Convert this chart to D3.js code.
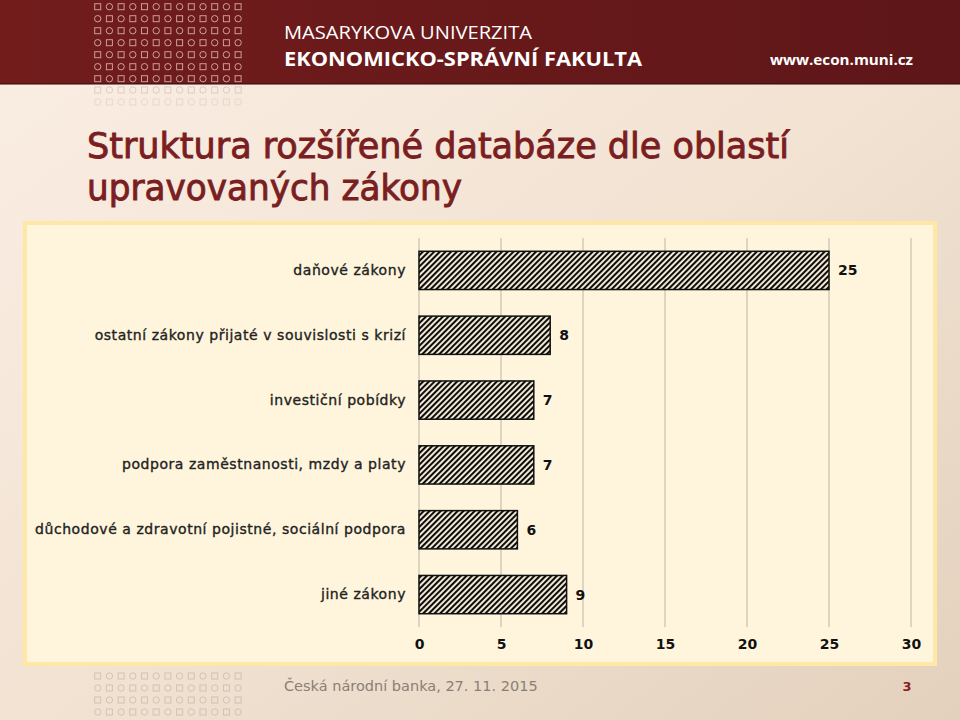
<!DOCTYPE html>
<html>
<head>
<meta charset="utf-8">
<script src="https://cdn.jsdelivr.net/npm/d3@7"></script>
<style>
  html, body { margin: 0; padding: 0; background: #f3e6d8; }
  svg { display: block; }
</style>
</head>
<body>
<svg id="chart" width="960" height="720"></svg>
<script>
// ---- data ----
const categories = [
  "daňové zákony",
  "ostatní zákony přijaté v souvislosti s krizí",
  "investiční pobídky",
  "podpora zaměstnanosti, mzdy a platy",
  "důchodové a zdravotní pojistné, sociální podpora",
  "jiné zákony"
];
const values = [25, 8, 7, 7, 6, 9];
const tickValues = [0, 5, 10, 15, 20, 25, 30];
const titleLines = ["Struktura rozšířené databáze dle oblastí", "upravovaných zákony"];
const headerLines = ["MASARYKOVA UNIVERZITA", "EKONOMICKO-SPRÁVNÍ FAKULTA"];
const headerUrl = "www.econ.muni.cz";
const footerText = "Česká národní banka, 27. 11. 2015";
const pageNumber = "3";

const svg = d3.select("#chart");
const W = 960, H = 720;
const defs = svg.append("defs");

// background gradient
const bg = defs.append("linearGradient").attr("id", "bg")
  .attr("x1", "0").attr("y1", "0").attr("x2", "1").attr("y2", "1");
bg.append("stop").attr("offset", "0").attr("stop-color", "#fbeee4");
bg.append("stop").attr("offset", "0.5").attr("stop-color", "#f2e3d3");
bg.append("stop").attr("offset", "1").attr("stop-color", "#e3d1bd");
svg.append("rect").attr("width", W).attr("height", H).attr("fill", "url(#bg)");

// header gradient
const hg = defs.append("linearGradient").attr("id", "hg")
  .attr("x1", "0").attr("y1", "0").attr("x2", "1").attr("y2", "0");
hg.append("stop").attr("offset", "0").attr("stop-color", "#721c1c");
hg.append("stop").attr("offset", "1").attr("stop-color", "#5e1618");
svg.append("rect").attr("width", W).attr("height", 84).attr("fill", "url(#hg)");
svg.append("line").attr("x1", 0).attr("x2", W).attr("y1", 84).attr("y2", 84)
  .attr("stroke", "#2a0a0a").attr("stroke-width", 1.2);

// dot pattern (header + fades)
function dots(y0, rows, colorFn) {
  for (let r = 0; r < rows; r++) {
    for (let c = 0; c < 13; c++) {
      const x = 97.7 + c * 11.7, y = y0 + r * 12;
      const col = colorFn(r);
      if ((r + c) % 2 === 0) {
        svg.append("rect").attr("x", x - 3).attr("y", y - 3).attr("width", 6).attr("height", 6)
          .attr("fill", "none").attr("stroke", col).attr("stroke-width", 1);
      } else {
        svg.append("circle").attr("cx", x).attr("cy", y).attr("r", 3.2)
          .attr("fill", "none").attr("stroke", col).attr("stroke-width", 1);
      }
    }
  }
}
dots(6.7, 7, () => "rgba(235,200,200,0.75)");
dots(90, 2, r => r === 0 ? "rgba(200,180,170,0.55)" : "rgba(200,180,170,0.35)");
dots(676, 4, () => "rgba(190,175,160,0.6)");

// header texts
svg.append("text").attr("x", 284).attr("y", 39).text(headerLines[0])
  .attr("font-family", "Open Sans").attr("font-size", 19).attr("fill", "#fff")
  .attr("textLength", 248).attr("lengthAdjust", "spacingAndGlyphs");
svg.append("text").attr("x", 284).attr("y", 66).text(headerLines[1])
  .attr("font-family", "Open Sans").attr("font-weight", "bold").attr("font-size", 20).attr("fill", "#fff")
  .attr("textLength", 358).attr("lengthAdjust", "spacingAndGlyphs");
svg.append("text").attr("x", 770).attr("y", 65).text(headerUrl)
  .attr("font-family", "Open Sans").attr("font-weight", "bold").attr("font-size", 15).attr("fill", "#fff")
  .attr("textLength", 143).attr("lengthAdjust", "spacingAndGlyphs");

// title
titleLines.forEach((t, i) => {
  svg.append("text").attr("x", 87).attr("y", 158 + i * 42).text(t)
    .attr("font-family", "DejaVu Sans").attr("font-size", 35)
    .attr("fill", "#7a1e22").attr("stroke", "#7a1e22").attr("stroke-width", 0.9)
    .attr("textLength", i === 0 ? 702 : 375).attr("lengthAdjust", "spacingAndGlyphs");
});

// chart box
svg.append("rect").attr("x", 25).attr("y", 223).attr("width", 910).attr("height", 441)
  .attr("fill", "#fff5dc").attr("stroke", "#fde8a6").attr("stroke-width", 4);

// hatch pattern
const pat = defs.append("pattern").attr("id", "hatch").attr("patternUnits", "userSpaceOnUse")
  .attr("width", 4).attr("height", 4).attr("patternTransform", "rotate(45)");
pat.append("rect").attr("width", 4).attr("height", 4).attr("fill", "#fbf3dc");
pat.append("rect").attr("x", 0).attr("width", 2.1).attr("height", 4).attr("fill", "#0d0d0d");

// scales
const plot = { left: 419, right: 911, top: 238, bottom: 627 };
const x = d3.scaleLinear().domain([0, 30]).range([plot.left, plot.right]);
const y = d3.scaleBand().domain(categories).range([plot.top, plot.bottom]).paddingInner(0.41).paddingOuter(0.205);

// gridlines
const g = svg.append("g");
g.selectAll("line.grid").data(tickValues).join("line")
  .attr("x1", d => x(d)).attr("x2", d => x(d))
  .attr("y1", plot.top).attr("y2", plot.bottom)
  .attr("stroke", "#c2baa9").attr("stroke-width", 1.1);

// bars
g.selectAll("rect.bar").data(values).join("rect")
  .attr("x", x(0)).attr("y", (d, i) => y(categories[i]))
  .attr("width", d => x(d) - x(0)).attr("height", y.bandwidth())
  .attr("fill", "url(#hatch)").attr("stroke", "#111").attr("stroke-width", 1.5);

// value labels
g.selectAll("text.val").data(values).join("text")
  .attr("x", d => x(d) + 9).attr("y", (d, i) => y(categories[i]) + y.bandwidth() / 2)
  .attr("dy", "0.36em").text(d => d)
  .attr("font-family", "DejaVu Sans").attr("font-weight", "bold").attr("font-size", 14).attr("fill", "#111");

// category labels
const yAxis = d3.axisLeft(y).tickSize(0).tickPadding(13);
const ya = svg.append("g").attr("transform", `translate(${plot.left},0)`).call(yAxis);
ya.select(".domain").remove();
ya.selectAll("text").attr("font-family", "DejaVu Sans").attr("font-size", 14)
  .attr("letter-spacing", "0.55px")
  .attr("fill", "#222").attr("stroke", "#222").attr("stroke-width", 0.35);

// x axis
const xAxis = d3.axisBottom(x).tickValues(tickValues).tickSize(0).tickPadding(12);
const xa = svg.append("g").attr("transform", `translate(0,${plot.bottom})`).call(xAxis);
xa.select(".domain").remove();
xa.selectAll("text").attr("font-family", "DejaVu Sans").attr("font-size", 14)
  .attr("font-weight", "bold").attr("fill", "#111");

// footer
svg.append("text").attr("x", 284).attr("y", 691).text(footerText)
  .attr("font-family", "DejaVu Sans").attr("font-size", 14.5).attr("fill", "#8a7f74");
svg.append("text").attr("x", 907).attr("y", 691).text(pageNumber)
  .attr("font-family", "DejaVu Sans").attr("font-weight", "bold").attr("font-size", 13).attr("fill", "#8a1e22")
  .attr("text-anchor", "middle");
</script>
</body>
</html>
